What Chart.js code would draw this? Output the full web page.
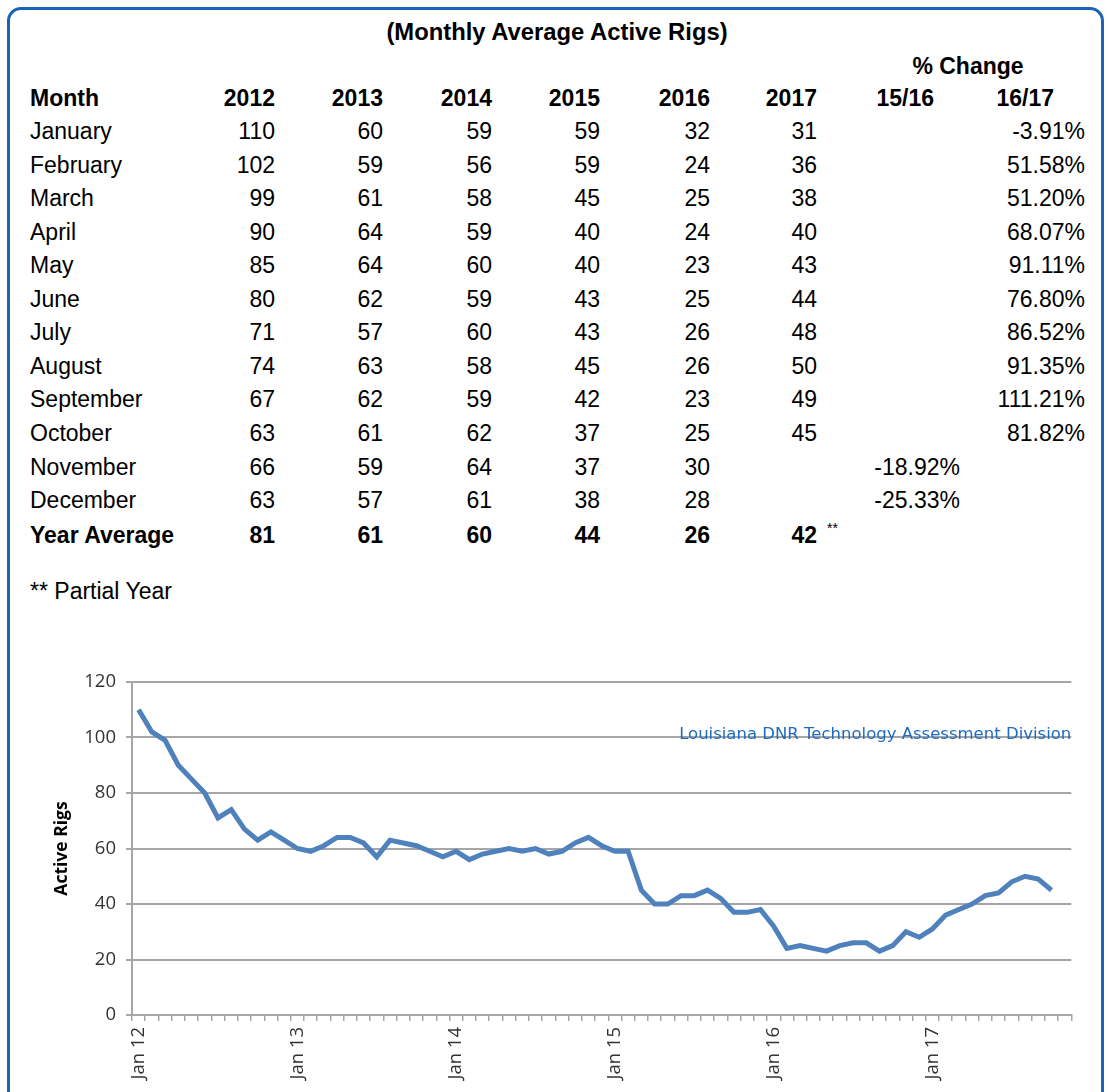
<!DOCTYPE html>
<html>
<head>
<meta charset="utf-8">
<script src="https://cdn.jsdelivr.net/npm/chart.js@4/dist/chart.umd.min.js"></script>
<style>
  html, body { margin: 0; padding: 0; background: #fff; }
  body { width: 1109px; height: 1092px; position: relative; overflow: hidden; font-family: "Liberation Sans", Arial, sans-serif; color: #000; }
  #frame { position: absolute; left: 7px; top: 7px; width: 1091px; height: 1120px; border: 3px solid #1b63b8; border-radius: 14px; }
  .cell { position: absolute; font-size: 23px; line-height: 26px; white-space: nowrap; }
  .b { font-weight: bold; }
  #chartWrap { position: absolute; left: 20px; top: 660px; width: 1073px; height: 432px; }
</style>
</head>
<body>
<div id="frame"></div>
<div id="table"></div>
<div id="chartWrap"><canvas id="rigChart"></canvas></div>
<script>
// table / chart data
const monthNames = ['January','February','March','April','May','June','July','August','September','October','November','December'];
const years = ['2012','2013','2014','2015','2016','2017'];
const rigs2012 = [110, 102, 99, 90, 85, 80, 71, 74, 67, 63, 66, 63];
const rigs2013 = [60, 59, 61, 64, 64, 62, 57, 63, 62, 61, 59, 57];
const rigs2014 = [59, 56, 58, 59, 60, 59, 60, 58, 59, 62, 64, 61];
const rigs2015 = [59, 59, 45, 40, 40, 43, 43, 45, 42, 37, 37, 38];
const rigs2016 = [32, 24, 25, 24, 23, 25, 26, 26, 23, 25, 30, 28];
const rigs2017 = [31, 36, 38, 40, 43, 44, 48, 50, 49, 45];
const yearAverages = ['81', '61', '60', '44', '26', '42'];
const change1516 = ['', '', '', '', '', '', '', '', '', '', '-18.92%', '-25.33%'];
const change1617 = ['-3.91%', '51.58%', '51.20%', '68.07%', '91.11%', '76.80%', '86.52%', '91.35%', '111.21%', '81.82%', '', ''];

// chart axis
const monthAbbr = ['Jan','Feb','Mar','Apr','May','Jun','Jul','Aug','Sep','Oct','Nov','Dec'];
const yearShort = ['12','13','14','15','16','17'];
const xTickLabels = ['Jan 12', 'Jan 13', 'Jan 14', 'Jan 15', 'Jan 16', 'Jan 17'];
const yTicks = [0, 20, 40, 60, 80, 100, 120];

const allYears = [rigs2012, rigs2013, rigs2014, rigs2015, rigs2016, rigs2017];

// --- table ---
const table = document.getElementById('table');
function cell(text, x, y, cls, align) {
    const d = document.createElement('div');
    d.className = 'cell ' + (cls || '');
    d.textContent = text;
    d.style.top = (y - 13) + 'px';
    if (align === 'r') { d.style.right = (1109 - x) + 'px'; d.style.textAlign = 'right'; }
    else if (align === 'c') { d.style.left = (x - 200) + 'px'; d.style.width = '400px'; d.style.textAlign = 'center'; }
    else d.style.left = x + 'px';
    table.appendChild(d);
    return d;
}
const colRight = [275, 383, 492, 600, 710, 817];
const title = cell('(Monthly Average Active Rigs)', 557, 32, 'b', 'c');
title.style.fontSize = '23.8px';
cell('% Change', 968, 66, 'b', 'c');
cell('Month', 30, 98, 'b');
years.forEach((y, i) => cell(y, colRight[i], 98, 'b', 'r'));
cell('15/16', 934, 98, 'b', 'r');
cell('16/17', 1054, 98, 'b', 'r');
monthNames.forEach((m, r) => {
    const y = 131 + r * 33.55;
    cell(m, 30, y);
    allYears.forEach((arr, i) => {
        if (arr[r] !== undefined) cell(String(arr[r]), colRight[i], y, '', 'r');
    });
    if (change1516[r]) cell(change1516[r], 960, y, '', 'r');
    if (change1617[r]) cell(change1617[r], 1085, y, '', 'r');
});
cell('Year Average', 30, 535, 'b');
yearAverages.forEach((v, i) => cell(v, colRight[i], 535, 'b', 'r'));
const star = cell('**', 827, 528, '');
star.style.fontSize = '14px';
cell('** Partial Year', 30, 591);

// --- chart ---
const categories = [];
yearShort.forEach(y => monthAbbr.forEach(m => categories.push(m + ' ' + y)));
categories.length = 71; // axis runs Jan 12 .. Nov 17

const series = [].concat(rigs2012, rigs2013, rigs2014, rigs2015, rigs2016, rigs2017);
while (series.length < categories.length) series.push(null);

const axisGray = '#a6a6a6';
const tickFont = { family: '"Open Sans", sans-serif', size: 18.5 };

const watermark = {
    id: 'watermark',
    afterDraw(chart) {
        const { ctx, chartArea, scales } = chart;
        ctx.save();
        ctx.font = '16.5px "DejaVu Sans", Verdana, sans-serif';
        ctx.fillStyle = '#1f6bbf';
        ctx.textAlign = 'right';
        ctx.textBaseline = 'alphabetic';
        ctx.fillText('Louisiana DNR Technology Assessment Division', chartArea.right, scales.y.getPixelForValue(100) + 1);
        ctx.restore();
    }
};

new Chart(document.getElementById('rigChart'), {
    type: 'line',
    data: {
        labels: categories,
        datasets: [{
            label: 'Active Rigs',
            data: series,
            borderColor: '#4f81bd',
            borderWidth: 5,
            pointRadius: 0,
            tension: 0,
            fill: false
        }]
    },
    options: {
        responsive: true,
        maintainAspectRatio: false,
        animation: false,
        layout: { padding: { top: 22, right: 16, left: 0, bottom: 0 } },
        plugins: {
            legend: { display: false },
            tooltip: { enabled: false }
        },
        scales: {
            x: {
                offset: true,
                grid: {
                    offset: true,
                    drawOnChartArea: false,
                    drawTicks: true,
                    tickLength: 6,
                    color: axisGray,
                    lineWidth: 1.5
                },
                border: { color: axisGray, width: 2 },
                ticks: {
                    autoSkip: false,
                    maxRotation: 90,
                    minRotation: 90,
                    padding: 6,
                    color: '#333',
                    font: tickFont,
                    callback: function (v, i) {
                        const lbl = categories[i];
                        return xTickLabels.includes(lbl) ? lbl : '';
                    }
                },
                afterFit(scale) { scale.height = 77; }
            },
            y: {
                min: 0,
                max: 120,
                afterBuildTicks(scale) { scale.ticks = yTicks.map(v => ({ value: v })); },
                grid: { color: axisGray, lineWidth: 2, tickLength: 6 },
                border: { color: axisGray, width: 2 },
                ticks: { padding: 10, color: '#333', font: tickFont },
                title: {
                    display: true,
                    text: 'Active Rigs',
                    color: '#000',
                    font: { family: '"Open Sans", sans-serif', size: 17.5, weight: 'bold' },
                    padding: { top: 32, bottom: 0 }
                },
                afterFit(scale) { scale.width = 112; }
            }
        }
    },
    plugins: [watermark]
});
</script>
</body>
</html>
